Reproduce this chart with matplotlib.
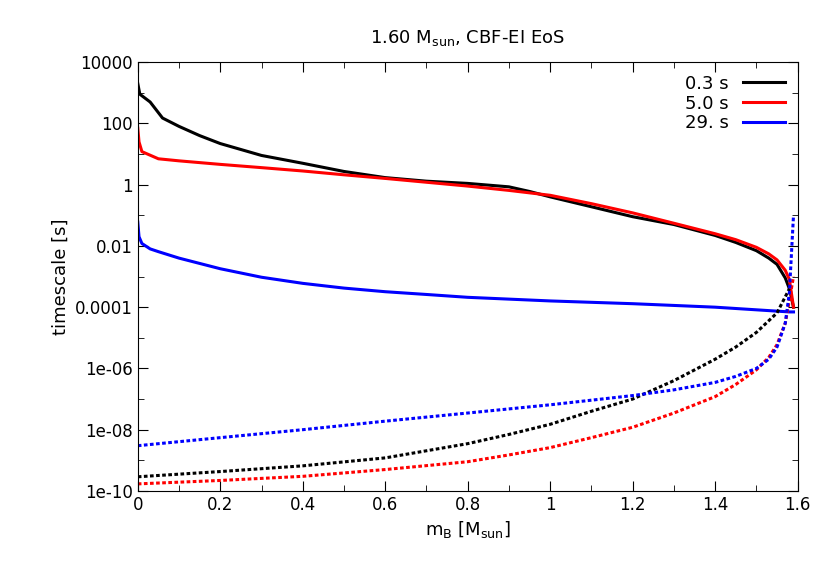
import matplotlib
matplotlib.use("Agg")
import matplotlib.pyplot as plt
from matplotlib.ticker import FixedLocator, MultipleLocator

# solid curves
m_black = [0.0, 0.005, 0.01, 0.03, 0.06, 0.1, 0.15, 0.2, 0.3, 0.4, 0.5, 0.6, 0.7, 0.8, 0.9, 0.95, 1.0, 1.1, 1.2, 1.3, 1.4, 1.45, 1.5, 1.53, 1.55, 1.57, 1.58, 1.59]
t_black = [2000, 900, 800, 500, 150, 80, 40, 22, 9, 5, 2.7, 1.7, 1.3, 1.1, 0.85, 0.6, 0.4, 0.19, 0.09, 0.05, 0.022, 0.013, 0.007, 0.004, 0.0025, 0.0009, 0.0004, 0.0001]
m_red = [0.0, 0.003, 0.01, 0.05, 0.1, 0.2, 0.3, 0.4, 0.5, 0.6, 0.7, 0.8, 0.9, 1.0, 1.1, 1.2, 1.3, 1.4, 1.45, 1.5, 1.53, 1.55, 1.57, 1.58, 1.59]
t_red = [70, 25, 12, 7, 6, 4.6, 3.6, 2.8, 2.1, 1.6, 1.2, 0.9, 0.65, 0.45, 0.24, 0.12, 0.055, 0.025, 0.016, 0.009, 0.0055, 0.0035, 0.0016, 0.0008, 0.0001]
m_blue = [0.0, 0.003, 0.01, 0.03, 0.05, 0.1, 0.2, 0.3, 0.4, 0.5, 0.6, 0.7, 0.8, 1.0, 1.2, 1.4, 1.58, 1.59]
t_blue = [0.06, 0.02, 0.012, 0.008, 0.0065, 0.004, 0.0018, 0.00095, 0.0006, 0.00042, 0.00032, 0.00026, 0.00021, 0.00016, 0.00013, 0.0001, 0.00007, 0.00007]

# dashed curves
md = [0.0, 0.2, 0.4, 0.6, 0.8, 0.9, 1.0, 1.1, 1.2, 1.3, 1.4, 1.45, 1.5, 1.55, 1.58]
d_black = [2.9e-10, 4.3e-10, 6.6e-10, 1.2e-9, 3.5e-9, 7e-9, 1.5e-8, 4e-8, 1e-7, 4e-7, 2e-6, 5e-6, 1.5e-5, 6.5e-5, 4e-4]
mr = [0.0, 0.2, 0.4, 0.6, 0.8, 0.9, 1.0, 1.1, 1.2, 1.3, 1.4, 1.45, 1.5, 1.53, 1.55, 1.57, 1.58, 1.59]
d_red = [1.7e-10, 2.2e-10, 3e-10, 5e-10, 9e-10, 1.5e-9, 2.6e-9, 5.5e-9, 1.2e-8, 3.5e-8, 1.2e-7, 3e-7, 9e-7, 2.3e-6, 6e-6, 3e-5, 1.7e-4, 1e-3]
mb = [0.0, 0.2, 0.4, 0.6, 0.8, 1.0, 1.2, 1.3, 1.4, 1.45, 1.5, 1.53, 1.55, 1.57, 1.58, 1.59]
d_blue = [3e-9, 5.5e-9, 1e-8, 1.9e-8, 3.5e-8, 6.5e-8, 1.3e-7, 2e-7, 3.5e-7, 5.5e-7, 1e-6, 2e-6, 5e-6, 3e-5, 3e-4, 0.1]

labels = ["0.3 s", "5.0 s", "29. s"]
yticks = [1e-10, 1e-8, 1e-6, 1e-4, 1e-2, 1, 100, 10000]
ytick_labels = ["1e-10", "1e-08", "1e-06", "0.0001", "0.01", "1", "100", "10000"]

fig, ax = plt.subplots(figsize=(8.3, 5.81), dpi=100)
fig.subplots_adjust(left=0.166, right=0.961, top=0.893, bottom=0.155)

ax.plot(m_black, t_black, color="black", lw=2.2, label=labels[0])
ax.plot(m_red, t_red, color="red", lw=2.2, label=labels[1])
ax.plot(m_blue, t_blue, color="blue", lw=2.2, label=labels[2])
ax.plot(md, d_black, color="black", lw=2.2, ls=(0, (1.2, 0.8)))
ax.plot(mr, d_red, color="red", lw=2.2, ls=(0, (1.2, 0.8)))
ax.plot(mb, d_blue, color="blue", lw=2.2, ls=(0, (1.2, 0.8)))

ax.set_yscale("log")
ax.set_ylim(1e-10, 1e4)
ax.set_xlim(0, 1.6)
ax.yaxis.set_major_locator(FixedLocator(yticks))
ax.set_yticklabels(ytick_labels)
ax.yaxis.set_minor_locator(FixedLocator([10 ** k for k in range(-9, 4, 2)]))
ax.yaxis.set_minor_formatter(plt.NullFormatter())
ax.xaxis.set_minor_locator(MultipleLocator(0.1))
ax.set_xticks([0, 0.2, 0.4, 0.6, 0.8, 1.0, 1.2, 1.4, 1.6], ["0", "0.2", "0.4", "0.6", "0.8", "1", "1.2", "1.4", "1.6"])
ax.tick_params(which="both", direction="in", top=True, right=True, labelsize=12)
ax.tick_params(which="major", length=7)
ax.tick_params(which="minor", length=4)

ax.set_xlabel(r"m$_\mathrm{B}$ [M$_\mathrm{sun}$]", fontsize=13)
ax.set_ylabel("timescale [s]", fontsize=13)
ax.set_title(r"1.60 M$_\mathrm{sun}$, CBF-EI EoS", fontsize=13, pad=14)
ax.legend(loc="upper right", frameon=False, fontsize=13, markerfirst=False,
          handlelength=2.3, borderaxespad=0.3, labelspacing=0.1)

fig.savefig("out.png", dpi=100)
